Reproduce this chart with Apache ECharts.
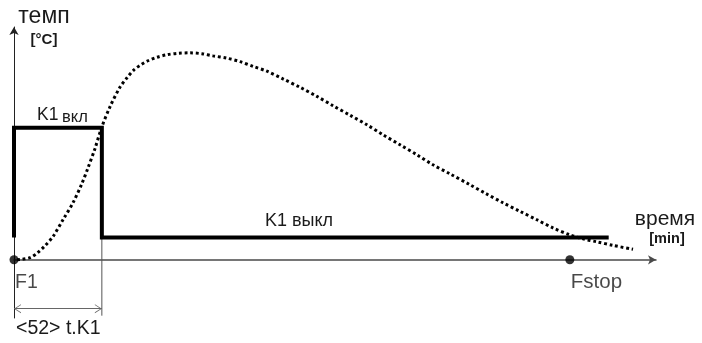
<!DOCTYPE html>
<html>
<head>
<meta charset="utf-8">
<script src="https://cdn.jsdelivr.net/npm/echarts@6/dist/echarts.min.js"></script>
<style>
  html, body { margin: 0; padding: 0; background: #ffffff; }
  #chart { width: 702px; height: 343px; }
</style>
</head>
<body>
<div id="chart"></div>
<script>
// Temperature curve: time [min] vs temperature [°C] (relative units)
const curveTime = [1.8, 4.7, 9.5, 13.6, 18.3, 23.1, 29.0, 34.9, 40.1, 43.8, 47.9, 51.8, 56.8, 62.7, 66.9, 71.0, 75.2, 79.3, 84.6, 90.6, 97.1, 104.2, 111.3, 117.8, 126.1, 133.8, 141.5, 149.7, 159.2, 169.3, 179.3, 188.8, 198.9, 208.9, 218.4, 228.5, 238.5, 248.0, 258.1, 270.0, 279.4, 289.4, 299.5, 309.5, 319.0, 329.1, 336.8, 345.1, 354.5, 366.4];
const curveTemp = [0, 0.2, 0.9, 2.8, 6.0, 10.0, 17.2, 24.5, 32.6, 39.5, 47.7, 56.7, 65.7, 74.1, 78.2, 81.6, 83.8, 85.5, 87.0, 88.1, 88.7, 88.9, 88.5, 87.6, 86.6, 85.1, 83.1, 81.0, 77.7, 74.1, 70.2, 66.2, 62.1, 58.0, 53.7, 49.4, 45.1, 40.8, 36.9, 32.2, 28.4, 24.5, 20.8, 17.2, 13.7, 10.7, 9.0, 7.7, 6.2, 4.5];

// Relay K1 state trace (on level / off level)
const relayTime = [0, 0, 52, 52, 352];
const relayLevel = [9.6, 56.7, 56.7, 9.6, 9.6];
const relayOnText = ['K1', 'вкл'];
const relayOffText = 'K1 выкл';

// Marked points on the time axis
const pointNames = ['F1', 'Fstop'];
const pointTime = [0, 329];
const pointTemp = [0, 0];
const pointFontSize = [19.5, 20.5];

// K1 on-time dimension
const onTime = 52;
const dimLevel = -21;
const dimBottom = -24;
const dimText = '<52> t.K1';

// Axis titles
const yTitle = 'темп';
const yUnit = '[°C]';
const xTitle = 'время';
const xUnit = '[min]';

const FONT = '"Liberation Sans", Arial, sans-serif';
const INK = '#1a1a1a';

const chart = echarts.init(document.getElementById('chart'), null, { renderer: 'canvas' });

// text placed by its alphabetic baseline
function txt(text, x, baseline, size, bold, align) {
  return {
    type: 'text',
    x: x,
    y: baseline - 0.347 * size,
    silent: true,
    style: {
      text: text,
      fill: INK,
      font: (bold ? 'bold ' : '') + size + 'px ' + FONT,
      align: align || 'left',
      verticalAlign: 'middle'
    }
  };
}

// open arrow head; tip sits at the centre of the symbol box
const chevron = 'path://M0,20 L5,10 L10,20 L9,20 L5,12 L1,20 Z M5,0 L5.01,0.01 L5,0.02 Z';

const option = {
  animation: false,
  backgroundColor: '#ffffff',
  grid: { left: 14, right: 46, top: 27, bottom: 25 },
  xAxis: {
    type: 'value',
    min: 0,
    max: 380,
    axisLine: {
      onZero: true,
      symbol: ['none', 'arrow'],
      symbolSize: [7, 8],
      lineStyle: { color: '#4a4a4a', width: 1.5 }
    },
    axisTick: { show: false },
    axisLabel: { show: false },
    splitLine: { show: false }
  },
  yAxis: {
    type: 'value',
    min: -25,
    max: 100,
    axisLine: {
      show: true,
      onZero: true,
      symbol: ['none', 'arrow'],
      symbolSize: [7, 8],
      lineStyle: { color: '#222222', width: 1 }
    },
    axisTick: { show: false },
    axisLabel: { show: false },
    splitLine: { show: false }
  },
  series: [
    {
      // dimension line for the K1 on-time
      type: 'line',
      data: [[onTime, relayLevel[relayLevel.length - 1]], [onTime, dimBottom]],
      showSymbol: false,
      silent: true,
      lineStyle: { color: '#555555', width: 1 },
      z: 1,
      markLine: {
        silent: true,
        symbol: [chevron, chevron],
        symbolSize: [9, 14],
        lineStyle: { color: '#666666', width: 1, type: 'solid' },
        label: { show: false },
        data: [[{ coord: [0, dimLevel] }, { coord: [onTime, dimLevel] }]]
      }
    },
    {
      // relay K1 state
      type: 'line',
      data: relayTime.map((t, i) => [t, relayLevel[i]]),
      showSymbol: false,
      silent: true,
      lineStyle: { color: '#000000', width: 4, cap: 'butt', join: 'miter' },
      z: 2
    },
    {
      // temperature
      type: 'line',
      data: curveTime.map((t, i) => [t, curveTemp[i]]),
      smooth: 0.3,
      showSymbol: false,
      silent: true,
      lineStyle: { color: '#000000', width: 3, type: [2.8, 2.8], cap: 'butt' },
      z: 3
    },
    {
      type: 'scatter',
      data: pointTime.map((t, i) => ({
        name: pointNames[i],
        value: [t, pointTemp[i]],
        label: { fontSize: pointFontSize[i] }
      })),
      symbol: 'circle',
      symbolSize: 9,
      silent: true,
      itemStyle: { color: '#000000' },
      label: {
        show: true,
        formatter: '{b}',
        position: 'bottom',
        align: 'left',
        distance: 8,
        offset: [1, 0],
        color: INK,
        fontFamily: FONT
      },
      z: 4
    }
  ],
  graphic: [
    txt(yTitle, 44, 25, 23, false, 'center'),
    txt(yUnit, 44, 45, 15, true, 'center'),
    txt(xTitle, 665, 226, 21, false, 'center'),
    txt(xUnit, 667, 244, 14.5, true, 'center'),
    txt(relayOnText[0], 37, 121, 17.5, false, 'left'),
    txt(relayOnText[1], 62, 123, 16.5, false, 'left'),
    txt(relayOffText, 265, 227, 18, false, 'left'),
    txt(dimText, 16, 335, 19.5, false, 'left')
  ]
};

chart.setOption(option);
</script>
</body>
</html>
